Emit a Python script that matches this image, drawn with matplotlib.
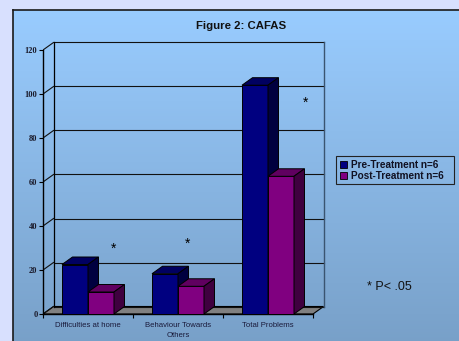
import numpy as np
import matplotlib
matplotlib.use("Agg")
import matplotlib.pyplot as plt
from matplotlib.patches import Polygon, Rectangle, Patch

categories = ["Difficulties at home", "Behaviour Towards\nOthers", "Total Problems"]
pre_values = [22.5, 18.3, 104.0]
post_values = [10.0, 12.6, 62.6]
series_names = ["Pre-Treatment n=6", "Post-Treatment n=6"]
yticks = [0, 20, 40, 60, 80, 100, 120]
star_heights = [29.5, 31.8, 96]
star_offsets = [0.28, 0.11, 0.42]

W, H = 459, 341
fig = plt.figure(figsize=(W / 100, H / 100), dpi=100)
fig.patch.set_facecolor("#d8e0fe")

def px_rect(x0, y0, x1, y1):
    return [x0 / W, 1 - y1 / H, (x1 - x0) / W, (y1 - y0) / H]

# panel with gradient
bg = fig.add_axes(px_rect(13, 9.5, 462, 345))
grad = np.linspace(0, 1, 256)[:, None]
top = np.array([0x99, 0xcc, 0xff]) / 255
bot = np.array([0x78, 0xa0, 0xc8]) / 255
img = top[None, None, :] * (1 - grad[..., None]) + bot[None, None, :] * grad[..., None]
bg.imshow(img, aspect="auto", extent=[0, 1, 0, 1])
bg.set_xticks([]); bg.set_yticks([])
for s in bg.spines.values():
    s.set_color("#1a1a1a"); s.set_linewidth(1.2)

x0px, x1px = 43, 330
y0px, ytop = 314, 35
ppx = 90.0
ppy = 2.2
ax = fig.add_axes(px_rect(x0px, ytop, x1px, y0px))
ax.set_xlim(0, (x1px - x0px) / ppx)
ax.set_ylim(0, (y0px - ytop) / ppy)
ax.patch.set_alpha(0)
dx = 10.5 / ppx
dy = 7.5 / ppy
n = len(categories)

# floor
ax.add_patch(Polygon([(0, 0), (n, 0), (n + dx, dy), (dx, dy)], closed=True,
                     facecolor="#808080", edgecolor="black", lw=0.8, zorder=1))
for v in yticks:
    ax.plot([dx, n + dx], [v + dy, v + dy], color="#111111", lw=0.8, zorder=1)
    ax.plot([0, dx], [v, v + dy], color="#111111", lw=0.8, zorder=1)
ax.plot([dx, dx], [dy, 120 + dy], color="black", lw=0.9, zorder=1)
ax.plot([n + dx, n + dx], [dy, 120 + dy], color="#3a5470", lw=1.0, zorder=1)

bw = 26 / ppx
cols = [("#000080", "#000060", "#00003f"), ("#800080", "#600060", "#3f003f")]
for i in range(n):
    c = i + 0.5
    for j, vals in enumerate([pre_values, post_values]):
        v = vals[i]
        xl = c - bw + j * bw
        xr = xl + bw
        front, topc, side = cols[j]
        z = 3 + i * 2 + j
        ax.add_patch(Rectangle((xl, 0), bw, v, facecolor=front, edgecolor="black", lw=0.7, zorder=z))
        ax.add_patch(Polygon([(xl, v), (xr, v), (xr + dx, v + dy), (xl + dx, v + dy)], closed=True,
                             facecolor=topc, edgecolor="black", lw=0.7, zorder=z))
        ax.add_patch(Polygon([(xr, 0), (xr + dx, dy), (xr + dx, v + dy), (xr, v)], closed=True,
                             facecolor=side, edgecolor="black", lw=0.7, zorder=z))
    ax.text(c + star_offsets[i], star_heights[i], "*", ha="center", va="center", fontsize=10,
            family="Liberation Sans", color="black", zorder=20)

for s in ["top", "right"]:
    ax.spines[s].set_visible(False)
ax.spines["left"].set_bounds(0, 120)
ax.spines["bottom"].set_bounds(0, n)
ax.spines["left"].set_zorder(2)
ax.spines["bottom"].set_zorder(2)
ax.spines["left"].set_linewidth(1.0)
ax.spines["bottom"].set_linewidth(1.0)
ax.set_yticks(yticks)
ax.set_yticklabels([str(t) for t in yticks], family="Liberation Serif", fontweight="bold",
                   fontsize=6, color="#1a1a2a")
ax.tick_params(axis="y", length=3, width=0.8, pad=1)
ax.set_xticks(range(n + 1))
ax.set_xticklabels([""] * (n + 1))
ax.tick_params(axis="x", which="major", length=3, width=0.8)
ax.set_xticks([i + 0.5 for i in range(n)], minor=True)
ax.set_xticklabels(categories, minor=True, family="Liberation Sans", fontsize=5.6,
                   color="#1a1a3a", linespacing=1.45)
ax.tick_params(axis="x", which="minor", length=0, pad=6)

fig.text(241 / W, 1 - 26 / H, "Figure 2: CAFAS", ha="center", va="center",
         family="Liberation Sans", fontweight="bold", fontsize=8.2, color="#111111")

handles = [Patch(facecolor="#000080", edgecolor="black", lw=0.6),
           Patch(facecolor="#800080", edgecolor="black", lw=0.6)]
leg = fig.legend(handles, series_names, loc="upper left",
                 bbox_to_anchor=(337 / W, 1 - 156.5 / H), frameon=False,
                 prop={"family": "Liberation Sans", "weight": "bold", "size": 7.2},
                 handlelength=0.7, handleheight=0.7, handletextpad=0.4,
                 borderpad=0.3, labelspacing=0.15, borderaxespad=0)
for t in leg.get_texts():
    t.set_color("#111122")
fig.patches.append(Rectangle((336 / W, 1 - 184 / H), 118 / W, 28 / H, transform=fig.transFigure,
                             facecolor="none", edgecolor="#222222", lw=0.8, figure=fig))

fig.text(389 / W, 1 - 287 / H, "* P< .05", ha="center", va="center",
         family="Liberation Sans", fontsize=9, color="#111111")

fig.savefig("out.png", dpi=100, facecolor=fig.get_facecolor())
